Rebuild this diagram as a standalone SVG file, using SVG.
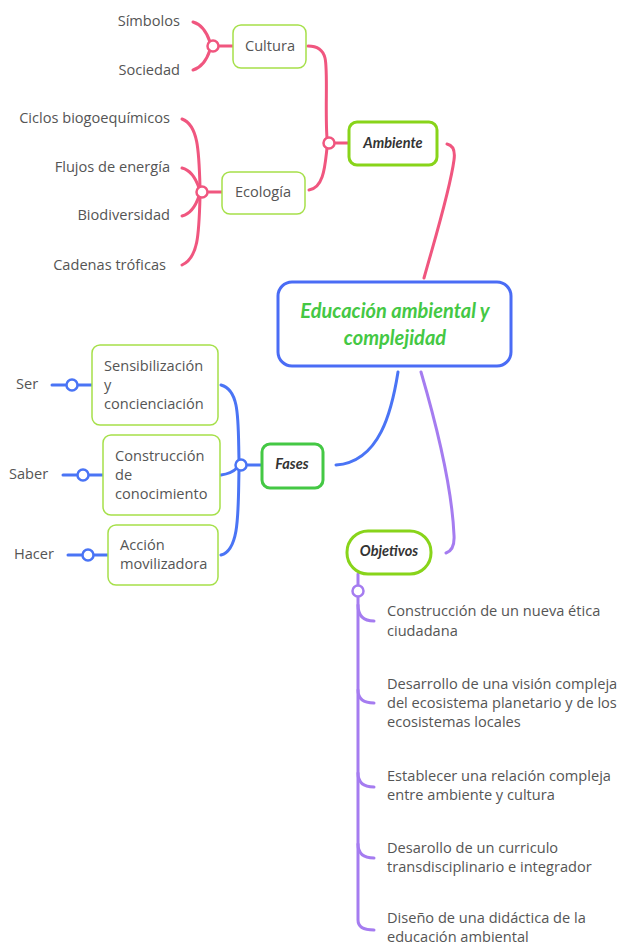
<svg xmlns="http://www.w3.org/2000/svg" width="622" height="946" viewBox="0 0 622 946">
<style>
.t{font-family:"Open Sans",Lato,"Noto Sans",sans-serif;font-size:14.6px;fill:#555;dominant-baseline:central}
.r{text-anchor:end}
.c{text-anchor:middle}
.h{font-family:Lato,"Open Sans",sans-serif;font-weight:bold;font-style:italic;font-size:14.5px;fill:#333;text-anchor:middle;dominant-baseline:central}
.sub{fill:#fff;stroke:#a6e04a;stroke-width:1.5}
.main{fill:#fff;stroke-width:3}
.pk{fill:none;stroke:#f0567f;stroke-width:3;stroke-linecap:round}
.bl{fill:none;stroke:#4a74f5;stroke-width:3;stroke-linecap:round}
.pu{fill:none;stroke:#a57cf0;stroke-width:3;stroke-linecap:round}
.jp{fill:#fff;stroke:#f0567f;stroke-width:2.5}
.jb{fill:#fff;stroke:#4a74f5;stroke-width:2.5}
.ju{fill:#fff;stroke:#a57cf0;stroke-width:2.5}
</style>
<g id="connectors">
<path class="pk" d="M424,278 C436,235 450,190 454,160 Q456,146 447,144"/>
<path class="pk" d="M334,143 L349,143"/>
<path class="pk" d="M327,138 C325,110 328,70 325,58 Q322,46 308,46"/>
<path class="pk" d="M327,148 C325,165 324,188 309,190"/>
<path class="pk" d="M218,46 L233,46"/>
<path class="pk" d="M210,42 C206,30 200,24 193,22"/>
<path class="pk" d="M210,50 C206,62 200,68 193,70"/>
<path class="pk" d="M207,192 L222,192"/>
<path class="pk" d="M200,187 C199,150 198,125 182,119"/>
<path class="pk" d="M199,188 C195,176 190,170 182,168"/>
<path class="pk" d="M199,196 C195,208 190,214 182,216"/>
<path class="pk" d="M200,197 C199,235 198,258 182,265"/>
<path class="bl" d="M398,372 C392,410 380,462 336,465"/>
<path class="bl" d="M246,465 L262,465"/>
<path class="bl" d="M239,460 C238,420 240,390 221,385"/>
<path class="bl" d="M237,468 C233,472 228,474 221,475"/>
<path class="bl" d="M239,470 C238,510 240,550 221,555"/>
<path class="bl" d="M52,385 L67,385 M77,385 L92,385"/>
<path class="bl" d="M63,475 L78,475 M88,475 L103,475"/>
<path class="bl" d="M68,555 L83,555 M93,555 L108,555"/>
<path class="pu" d="M421,372 C438,430 452,490 454,535 Q455,550 446,553"/>
<path class="pu" d="M358,574 L358,586"/>
<path class="pu" d="M358,596 L358,920 Q358,930 374,930"/>
<path class="pu" d="M358,605 Q358,621 374,621"/>
<path class="pu" d="M358,690 Q358,703 374,703"/>
<path class="pu" d="M358,773 Q358,787 374,787"/>
<path class="pu" d="M358,844 Q358,858 374,858"/>
<circle class="jp" cx="329" cy="143" r="5.5"/>
<circle class="jp" cx="213" cy="46" r="5.5"/>
<circle class="jp" cx="202" cy="192" r="5.5"/>
<circle class="jb" cx="241" cy="465" r="5.5"/>
<circle class="jb" cx="72" cy="385" r="5.5"/>
<circle class="jb" cx="83" cy="475" r="5.5"/>
<circle class="jb" cx="88" cy="555" r="5.5"/>
<circle class="ju" cx="358" cy="591" r="5.5"/>
</g>
<g id="central">
<rect x="278" y="282" width="233" height="84" rx="14" class="main" stroke="#4a6cf5"/>
<text x="395" y="310" class="h" style="fill:#44c844;font-size:20px">Educación ambiental y</text>
<text x="395" y="337" class="h" style="fill:#44c844;font-size:20px">complejidad</text>
</g>
<g id="ambiente">
<rect x="349" y="122" width="88" height="43" rx="8" class="main" stroke="#88d41a"/>
<text x="393" y="142" class="h">Ambiente</text>
</g>
<g id="cultura">
<rect x="233" y="25" width="73" height="43" rx="8" class="sub"/>
<text x="270" y="45" class="t c">Cultura</text>
</g>
<g id="simbolos"><text x="180" y="20" class="t r">Símbolos</text></g>
<g id="sociedad"><text x="180" y="69" class="t r">Sociedad</text></g>
<g id="ecologia">
<rect x="222" y="172" width="83" height="42" rx="8" class="sub"/>
<text x="263" y="191" class="t c">Ecología</text>
</g>
<g id="ciclos"><text x="170" y="117" class="t r">Ciclos biogoequímicos</text></g>
<g id="flujos"><text x="170" y="166" class="t r">Flujos de energía</text></g>
<g id="biodiversidad"><text x="170" y="214" class="t r">Biodiversidad</text></g>
<g id="cadenas"><text x="166" y="264" class="t r">Cadenas tróficas</text></g>
<g id="fases">
<rect x="262" y="444" width="61" height="44" rx="8" class="main" stroke="#44c844"/>
<text x="292" y="463" class="h">Fases</text>
</g>
<g id="sensibilizacion">
<rect x="92" y="345" width="126" height="80" rx="8" class="sub"/>
<text x="104" y="365" class="t">Sensibilización</text>
<text x="104" y="384" class="t">y</text>
<text x="104" y="403" class="t">concienciación</text>
</g>
<g id="ser"><text x="16" y="383" class="t">Ser</text></g>
<g id="construccion">
<rect x="103" y="435" width="117" height="80" rx="8" class="sub"/>
<text x="115" y="455" class="t">Construcción</text>
<text x="115" y="474" class="t">de</text>
<text x="115" y="493" class="t">conocimiento</text>
</g>
<g id="saber"><text x="9" y="473" class="t">Saber</text></g>
<g id="accion">
<rect x="108" y="525" width="110" height="60" rx="8" class="sub"/>
<text x="120" y="544" class="t">Acción</text>
<text x="120" y="563" class="t">movilizadora</text>
</g>
<g id="hacer"><text x="14" y="553" class="t">Hacer</text></g>
<g id="objetivos">
<rect x="347" y="531" width="84" height="43" rx="21" class="main" stroke="#88d41a"/>
<text x="389" y="550" class="h">Objetivos</text>
</g>
<g id="obj1">
<text x="387" y="610" class="t">Construcción de un nueva ética</text>
<text x="387" y="630" class="t">ciudadana</text>
</g>
<g id="obj2">
<text x="387" y="683" class="t">Desarrollo de una visión compleja</text>
<text x="387" y="702" class="t">del ecosistema planetario y de los</text>
<text x="387" y="721" class="t">ecosistemas locales</text>
</g>
<g id="obj3">
<text x="387" y="775" class="t">Establecer una relación compleja</text>
<text x="387" y="794" class="t">entre ambiente y cultura</text>
</g>
<g id="obj4">
<text x="387" y="847" class="t">Desarollo de un curriculo</text>
<text x="387" y="866" class="t">transdisciplinario e integrador</text>
</g>
<g id="obj5">
<text x="387" y="917" class="t">Diseño de una didáctica de la</text>
<text x="387" y="936" class="t">educación ambiental</text>
</g>
</svg>
